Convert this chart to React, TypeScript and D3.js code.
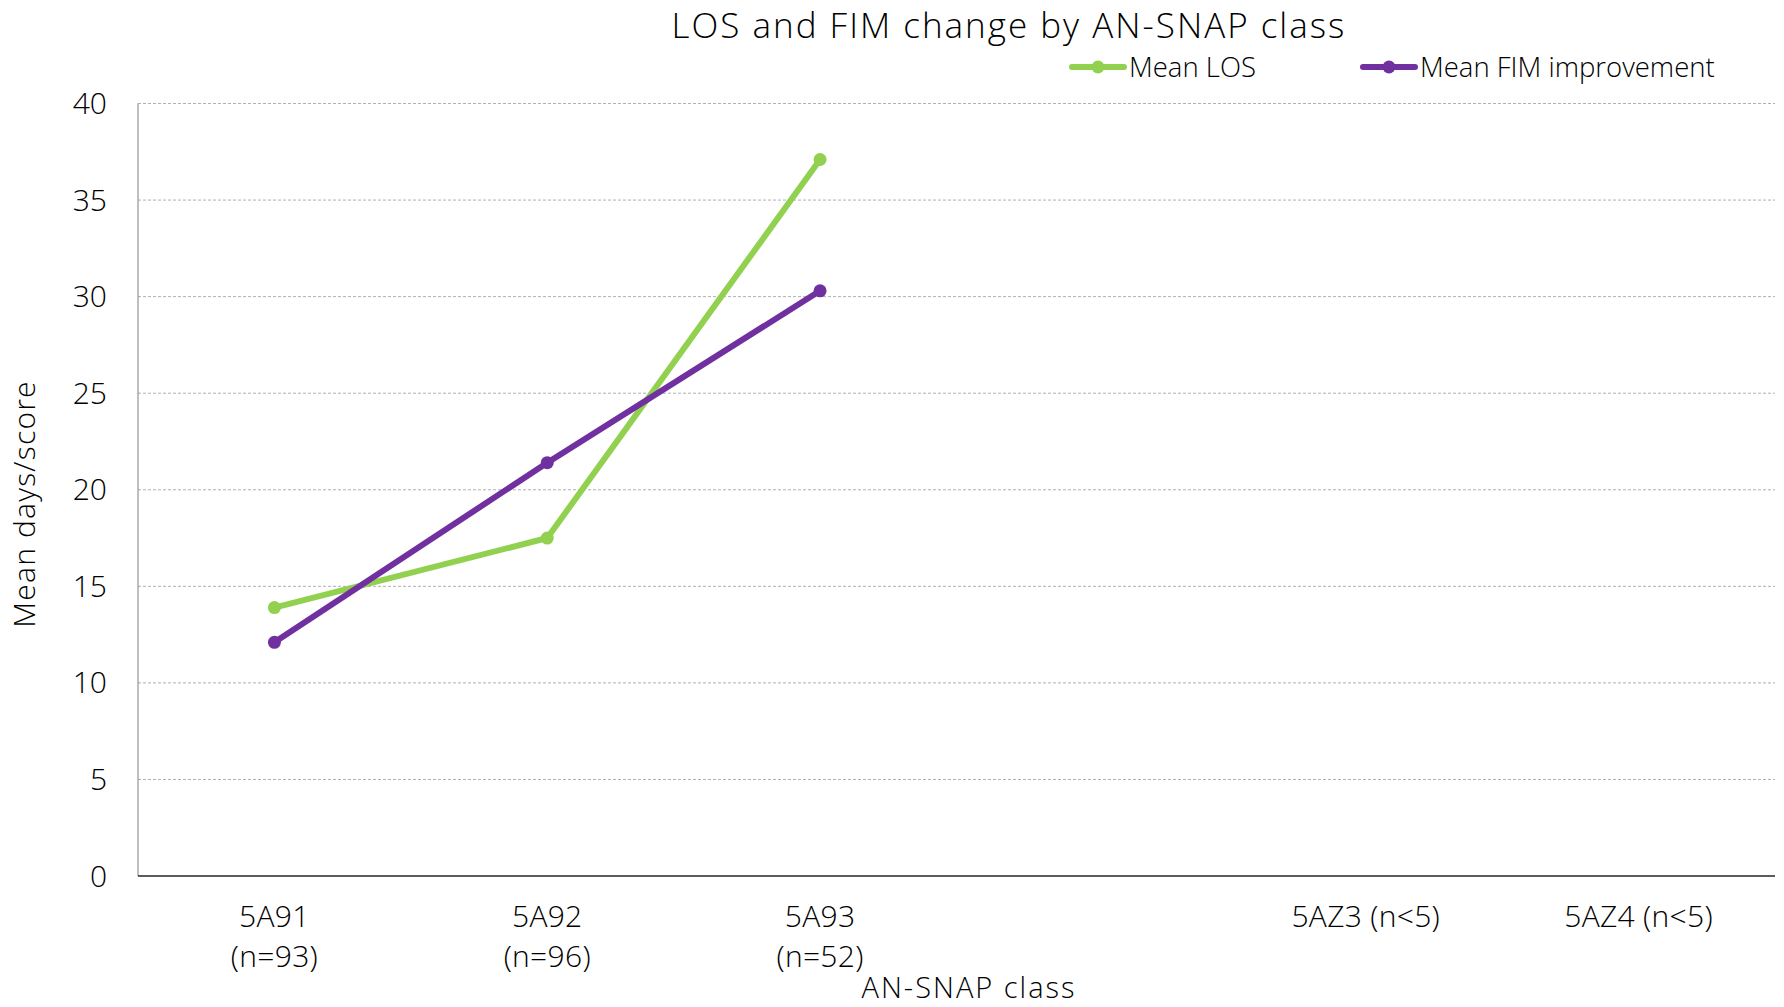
import React from "react";
import * as d3 from "d3";

const categories = ["5A91|(n=93)", "5A92|(n=96)", "5A93|(n=52)", "", "5AZ3 (n<5)", "5AZ4 (n<5)"];
const losValues: (number | null)[] = [13.9, 17.5, 37.1, null, null, null];
const fimValues: (number | null)[] = [12.1, 21.4, 30.3, null, null, null];
const yTicks = [0, 5, 10, 15, 20, 25, 30, 35, 40];
const seriesNames = ["Mean LOS", "Mean FIM improvement"];
const seriesColors = ["#92d050", "#7030a0"];

const W = 1784;
const H = 1007;
const FONT = "'Open Sans', Lato, sans-serif";

export default function App() {
  const left = 138, right = 1775, top = 103.5, bottom = 876;
  const x = d3.scaleBand<string>().domain(categories.map((c, i) => i + "")).range([left, right]);
  const y = d3.scaleLinear().domain([0, 40]).range([bottom, top]);
  const cx = (i: number) => (x(i + "") as number) + x.bandwidth() / 2;
  const line = d3
    .line<number | null>()
    .defined((d) => d !== null)
    .x((_, i) => cx(i))
    .y((d) => y(d as number));
  const series = [losValues, fimValues];
  return (
    <svg width={W} height={H} style={{ display: "block", position: "absolute", left: 0, top: 0 }} fontFamily={FONT} fontWeight={300}>
      <rect width={W} height={H} fill="#fff" />
      <text x={1009} y={38} textAnchor="middle" fontSize={35} letterSpacing={2} fill="#000">
        LOS and FIM change by AN-SNAP class
      </text>
      {yTicks.map((t) => (
        <g key={t}>
          {t > 0 && (
            <line x1={left} x2={right} y1={y(t)} y2={y(t)} stroke="#b0b0b0" strokeWidth={1} strokeDasharray="3,2" />
          )}
          <text x={107} y={y(t) + 10.5} textAnchor="end" fontSize={30} fill="#000">
            {t}
          </text>
        </g>
      ))}
      <line x1={left} x2={left} y1={top} y2={bottom} stroke="#808080" strokeWidth={1} />
      <line x1={left} x2={right} y1={bottom} y2={bottom} stroke="#262626" strokeWidth={1.5} />
      {categories.map((c, i) => {
        const parts = c.split("|");
        return (
          <text key={i} x={cx(i)} textAnchor="middle" fontSize={30} letterSpacing={0.3} fill="#000">
            {parts.map((p, j) => (
              <tspan key={j} x={cx(i)} y={927 + j * 40}>
                {p}
              </tspan>
            ))}
          </text>
        );
      })}
      <text x={969} y={998} textAnchor="middle" fontSize={29} letterSpacing={2} fill="#000">
        AN-SNAP class
      </text>
      <text transform={`translate(35,504) rotate(-90)`} textAnchor="middle" fontSize={30} letterSpacing={1.2} fill="#000">
        Mean days/score
      </text>
      {series.map((s, k) => (
        <g key={k}>
          <path d={line(s) || ""} fill="none" stroke={seriesColors[k]} strokeWidth={6} strokeLinejoin="round" strokeLinecap="round" />
          {s.map((v, i) =>
            v === null ? null : <circle key={i} cx={cx(i)} cy={y(v)} r={6.5} fill={seriesColors[k]} />
          )}
        </g>
      ))}
      {seriesNames.map((n, k) => {
        const lx = k === 0 ? 1072 : 1363;
        return (
          <g key={n}>
            <line x1={lx} x2={lx + 52} y1={67} y2={67} stroke={seriesColors[k]} strokeWidth={6} strokeLinecap="round" />
            <circle cx={lx + 26} cy={67} r={6.5} fill={seriesColors[k]} />
            <text x={lx + 57} y={76.5} fontSize={27.5} fill="#000">
              {n}
            </text>
          </g>
        );
      })}
    </svg>
  );
}
